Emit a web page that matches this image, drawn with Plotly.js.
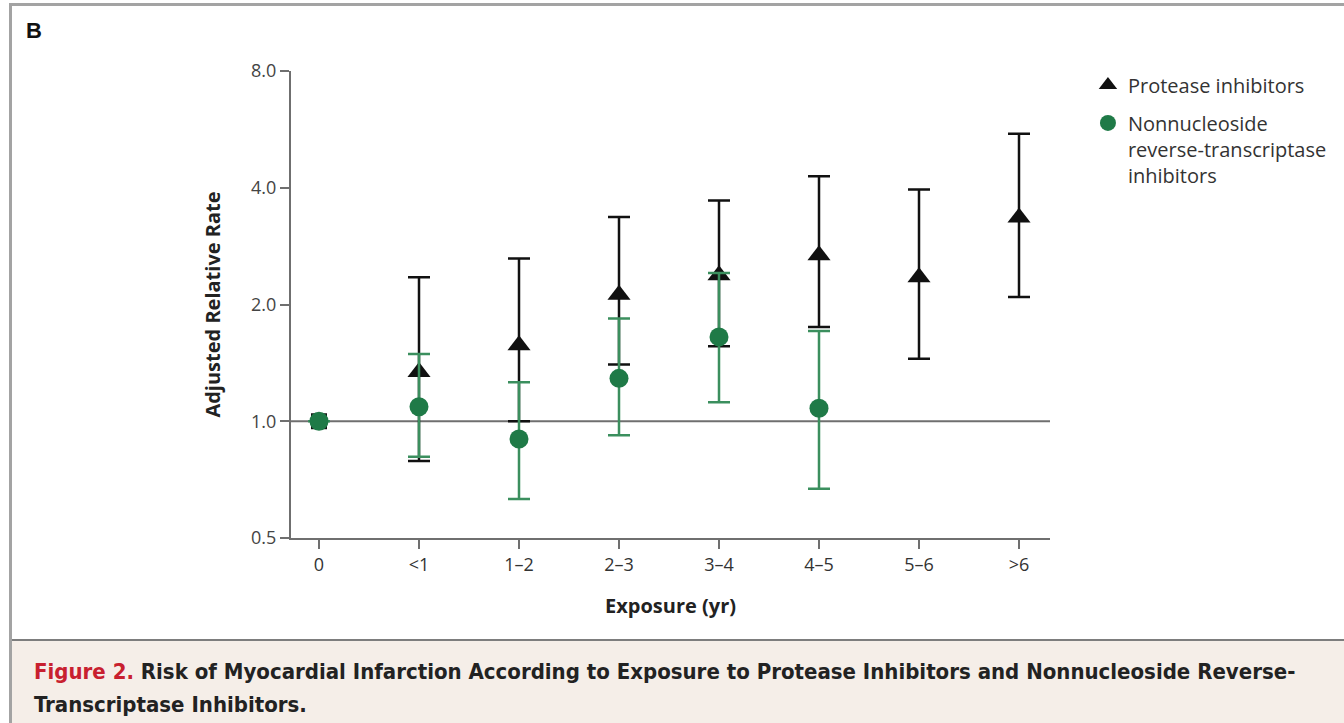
<!DOCTYPE html>
<html>
<head>
<meta charset="utf-8">
<script src="https://cdn.plot.ly/plotly-3.0.1.min.js"></script>
<style>
html,body{margin:0;padding:0;background:#fff;}
#wrap{position:relative;width:1344px;height:723px;overflow:hidden;background:#fff;}
#chart{position:absolute;left:0;top:0;width:1344px;height:723px;}
#frameTop{position:absolute;left:10px;top:3px;width:1334px;height:3px;background:#a3a3a3;}
#frameLeft{position:absolute;left:9px;top:3px;width:3px;height:720px;background:#a3a3a3;}
#panel{position:absolute;left:26px;top:18px;font-family:"Liberation Sans",Arial,sans-serif;font-weight:bold;font-size:22px;color:#111;}
#caption{position:absolute;left:12px;top:639px;width:1332px;height:84px;background:#f5eee8;border-top:2px solid #7d7d7d;}
#captext{position:absolute;left:22px;top:14px;font-family:"Liberation Sans Narrow","DejaVu Sans Condensed","Liberation Sans",sans-serif;font-weight:bold;font-size:22px;line-height:33px;color:#222;}
#captext .fig{color:#c8202f;}
</style>
</head>
<body>
<div id="wrap">
  <div id="chart"></div>
  <div id="frameTop"></div>
  <div id="frameLeft"></div>
  <div id="panel">B</div>
  <div id="caption"><div id="captext"><span class="fig">Figure 2.</span> Risk of Myocardial Infarction According to Exposure to Protease Inhibitors and Nonnucleoside Reverse-<br>Transcriptase Inhibitors.</div></div>
</div>
<script>
// ---- data ----
var categories = ['0', '<1', '1–2', '2–3', '3–4', '4–5', '5–6', '>6'];

var piRate  = [1.0, 1.34, 1.57, 2.12, 2.38, 2.68, 2.35, 3.35];
var piLower = [1.0, 0.79, 1.00, 1.40, 1.56, 1.75, 1.45, 2.09];
var piUpper = [1.0, 2.35, 2.63, 3.36, 3.71, 4.28, 3.96, 5.51];

var nnCategories = ['0', '<1', '1–2', '2–3', '3–4', '4–5'];
var nnRate  = [1.0, 1.09, 0.90, 1.29, 1.65, 1.08];
var nnLower = [1.0, 0.81, 0.63, 0.92, 1.12, 0.67];
var nnUpper = [1.0, 1.49, 1.26, 1.84, 2.41, 1.71];

var yTickVals = [0.5, 1, 2, 4, 8];
var yTickText = ['0.5', '1.0', '2.0', '4.0', '8.0'];

function plus(v, hi) { return hi.map(function (h, i) { return h - v[i]; }); }
function minus(v, lo) { return lo.map(function (l, i) { return v[i] - l; }); }

var BLACK = '#111111';
var GREEN = '#1f7a47';
var GREEN_BAR = '#3b8f5e';
var FONT = '"Open Sans", "Liberation Sans", sans-serif';

var traces = [
  {
    // reference category (0): drawn as a small black square behind the green circle
    x: categories.slice(0, 1), y: piRate.slice(0, 1),
    type: 'scatter', mode: 'markers', showlegend: false, hoverinfo: 'skip',
    legendgroup: 'ref',
    marker: { symbol: 'square', size: 16, color: BLACK }
  },
  {
    name: 'Protease inhibitors',
    legendgroup: 'pi',
    x: categories.slice(1), y: piRate.slice(1),
    type: 'scatter', mode: 'markers',
    marker: { symbol: 'triangle-up', size: 20, color: BLACK },
    error_y: {
      type: 'data', symmetric: false,
      array: plus(piRate, piUpper).slice(1),
      arrayminus: minus(piRate, piLower).slice(1),
      color: BLACK, thickness: 2.5, width: 11
    }
  },
  {
    name: 'Nonnucleoside<br>reverse-transcriptase<br>inhibitors',
    legendgroup: 'nn',
    x: nnCategories, y: nnRate,
    type: 'scatter', mode: 'markers',
    marker: { symbol: 'circle', size: 19, color: GREEN },
    error_y: {
      type: 'data', symmetric: false,
      array: plus(nnRate, nnUpper),
      arrayminus: minus(nnRate, nnLower),
      color: GREEN_BAR, thickness: 2.5, width: 11
    }
  }
];

var layout = {
  width: 1344, height: 723,
  margin: { l: 291, r: 294, t: 71, b: 185, pad: 0 },
  paper_bgcolor: 'rgba(0,0,0,0)',
  plot_bgcolor: 'rgba(0,0,0,0)',
  font: { family: FONT, size: 18, color: '#333' },
  showlegend: true,
  legend: {
    x: 1.05, y: 1.012, xanchor: 'left', yanchor: 'top',
    font: { family: FONT, size: 20, color: '#333' },
    bgcolor: 'rgba(0,0,0,0)', borderwidth: 0,
    traceorder: 'grouped', tracegroupgap: 9,
    valign: 'top', itemsizing: 'trace'
  },
  xaxis: {
    type: 'category',
    categoryorder: 'array', categoryarray: categories,
    range: [-0.28, 7.31],
    showgrid: false, zeroline: false,
    showline: true, linecolor: '#6f6f6f', linewidth: 2,
    ticks: 'outside', ticklen: 9, tickwidth: 2, tickcolor: '#6f6f6f',
    tickfont: { family: FONT, size: 18, color: '#333' },
    title: { text: '<b>Exposure (yr)</b>', font: { family: FONT, size: 20, color: '#222' }, standoff: 24 },
    automargin: false, fixedrange: true
  },
  yaxis: {
    type: 'log',
    range: [Math.log10(0.5), Math.log10(8)],
    tickvals: yTickVals, ticktext: yTickText,
    showgrid: false, zeroline: false,
    showline: true, linecolor: '#6f6f6f', linewidth: 2,
    ticks: 'outside', ticklen: 9, tickwidth: 2, tickcolor: '#6f6f6f',
    tickfont: { family: FONT, size: 18, color: '#444' },
    title: { text: '<b>Adjusted Relative Rate</b>', font: { family: FONT, size: 20, color: '#222' }, standoff: 25 },
    automargin: false, fixedrange: true
  },
  shapes: [
    { type: 'line', xref: 'paper', x0: 0, x1: 1, yref: 'y', y0: 1, y1: 1,
      line: { color: '#6f6f6f', width: 2 }, layer: 'below' }
  ]
};

Plotly.newPlot('chart', traces, layout, { staticPlot: true, displayModeBar: false });
</script>
</body>
</html>
